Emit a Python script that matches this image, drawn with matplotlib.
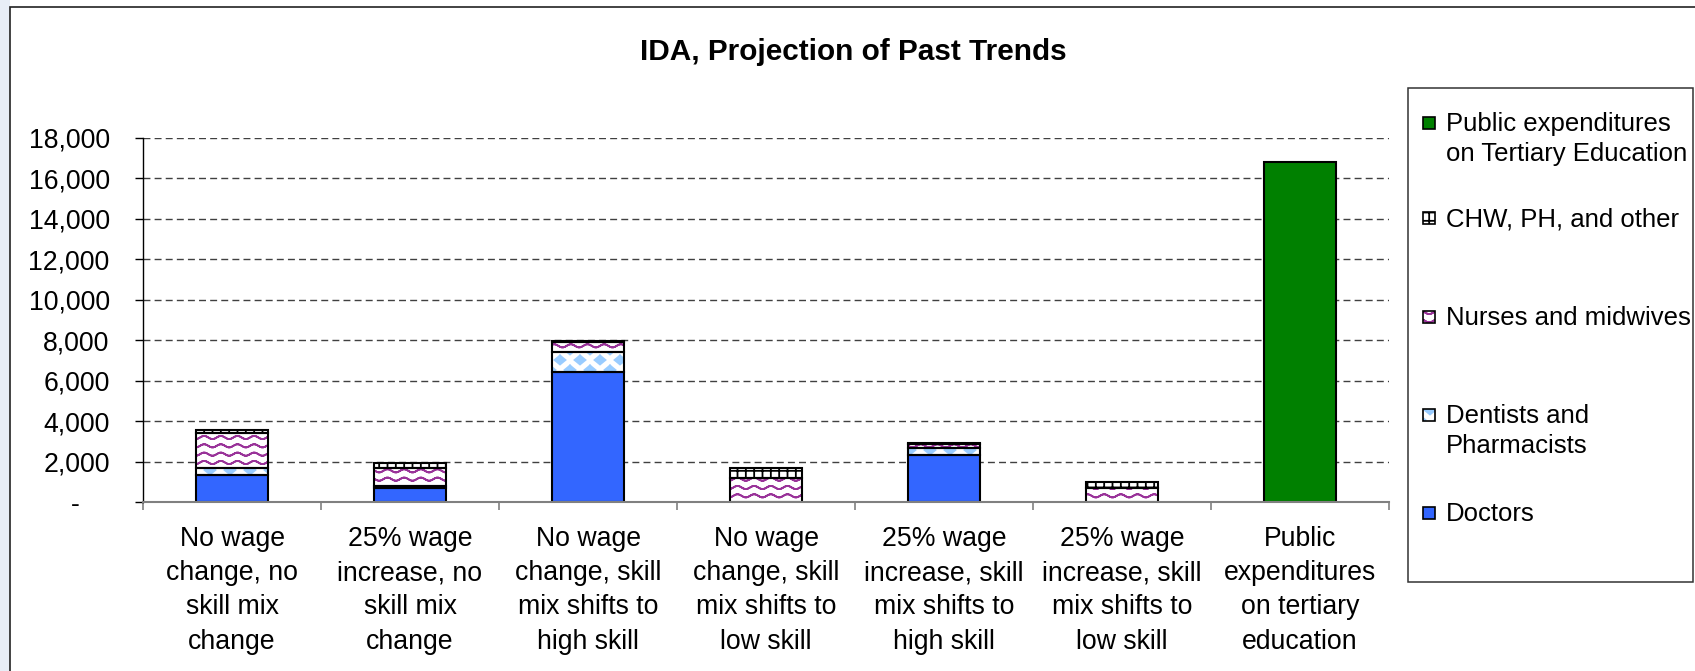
import warnings

import matplotlib
matplotlib.use("Agg")
import matplotlib.hatch as mhatch
import matplotlib.pyplot as plt
import numpy as np
from matplotlib.patches import Rectangle
from matplotlib.path import Path
from matplotlib.ticker import FixedLocator

warnings.filterwarnings("ignore")

# ---------- data ----------
categories = [
    "No wage\nchange, no\nskill mix\nchange",
    "25% wage\nincrease, no\nskill mix\nchange",
    "No wage\nchange, skill\nmix shifts to\nhigh skill",
    "No wage\nchange, skill\nmix shifts to\nlow skill",
    "25% wage\nincrease, skill\nmix shifts to\nhigh skill",
    "25% wage\nincrease, skill\nmix shifts to\nlow skill",
    "Public\nexpenditures\non tertiary\neducation",
]
doctors = [1350, 680, 6420, 0, 2330, 0, 0]
dentists = [320, 130, 990, 0, 330, 0, 0]
nurses = [1730, 860, 480, 1170, 210, 680, 0]
chw_other = [160, 250, 60, 500, 30, 320, 0]
public_tertiary = [0, 0, 0, 0, 0, 0, 16800]

yticks = list(range(0, 18001, 2000))


# ---------- custom hatch patterns ----------
class WaveHatch(mhatch.HatchPatternBase):
    """'~' : rows of small sine waves (drawn out and back so nothing gets filled)."""

    def __init__(self, hatch, density):
        self.num_rows = int(hatch.count("~") * density)
        self.num_pts = 61
        self.num_vertices = self.num_rows * self.num_pts * 2

    def set_vertices_and_codes(self, vertices, codes):
        xs = np.linspace(0.0, 1.0, self.num_pts)
        wave = 0.016 * np.sin(2 * np.pi * 6 * xs)
        n = self.num_pts
        for i in range(self.num_rows):
            y0 = (i + 0.5) / self.num_rows
            start = i * 2 * n
            vertices[start:start + n, 0] = xs
            vertices[start:start + n, 1] = y0 + wave
            vertices[start + n:start + 2 * n, 0] = xs[::-1]
            vertices[start + n:start + 2 * n, 1] = (y0 + wave)[::-1]
            codes[start:start + 2 * n] = Path.LINETO
            codes[start] = Path.MOVETO


class DiamondHatch(mhatch.HatchPatternBase):
    """'d' : staggered rows of filled diamonds."""

    n_cols = 5
    n_rows = 10

    def __init__(self, hatch, density):
        self.count = hatch.count("d")
        if self.count:
            self.centers = []
            for r in range(self.n_rows + 1):
                if r % 2 == 0:
                    cols = np.arange(self.n_cols + 1) / self.n_cols
                else:
                    cols = (np.arange(self.n_cols) + 0.5) / self.n_cols
                for c in cols:
                    self.centers.append((c, r / self.n_rows))
            self.num_vertices = len(self.centers) * 5
        else:
            self.num_vertices = 0

    def set_vertices_and_codes(self, vertices, codes):
        shape = np.array([[0, 1], [1, 0], [0, -1], [-1, 0], [0, 1]], float)
        shape *= [0.055, 0.045]
        for k, (cx, cy) in enumerate(self.centers):
            vertices[k * 5:(k + 1) * 5] = shape + [cx, cy]
            codes[k * 5:(k + 1) * 5] = Path.LINETO
            codes[k * 5] = Path.MOVETO


mhatch._hatch_types.extend([WaveHatch, DiamondHatch])

# ---------- style ----------
plt.rcParams["font.family"] = ["Liberation Sans", "DejaVu Sans"]
plt.rcParams["hatch.linewidth"] = 1.3

FS = 19.2
LEG_FS = 18.5
series = [
    # label, values, face, hatch colour, hatch
    ("Doctors", doctors, "#3366FF", "#3366FF", None),
    ("Dentists and\nPharmacists", dentists, "white", "#99CCFF", "d"),
    ("Nurses and midwives", nurses, "white", "#993399", "~~"),
    ("CHW, PH, and other", chw_other, "white", "black", "++"),
    ("Public expenditures\non Tertiary Education", public_tertiary, "#008000", "#008000", None),
]
# first-line centre of each legend entry, pixels from the top (same order as series)
legend_rows = [513, 415, 317, 218, 123]

fig = plt.figure(figsize=(16.95, 6.71), dpi=100)
W, H = 1695, 671

# outer chart border and the pale strip outside it
fig.patches.append(Rectangle((0, 0), 10 / W, 1, transform=fig.transFigure,
                             facecolor="#e8eef7", edgecolor="none", zorder=-2))
fig.patches.append(Rectangle((10 / W, -0.1), 1.1, 1.1 - 7 / H, transform=fig.transFigure,
                             facecolor="white", edgecolor="#222222", lw=1.2, zorder=-1))

ax = fig.add_axes([143 / W, 1 - 502 / H, (1389 - 143) / W, (502 - 138) / H])
ax.set_facecolor("none")

x = np.arange(len(categories))
width = 0.41
bottom = np.zeros(len(categories))
for label, vals, face, hcol, hatch in series:
    vals = np.asarray(vals, float)
    keep = vals > 0
    ax.bar(x[keep], vals[keep], width, bottom=bottom[keep], color=face,
           edgecolor=hcol, hatch=hatch, linewidth=0, zorder=3)
    ax.bar(x[keep], vals[keep], width, bottom=bottom[keep], fill=False,
           edgecolor="black", linewidth=1.5, zorder=4)
    bottom += vals

ax.set_xlim(-0.5, len(categories) - 0.5)
ax.set_ylim(0, 18000)
ax.set_yticks(yticks)
ax.set_yticklabels(["-    " if v == 0 else f"{v:,}" for v in yticks], fontsize=FS)
ax.set_xticks(x)
ax.set_xticklabels(categories, fontsize=FS, linespacing=1.42)
ax.xaxis.set_minor_locator(FixedLocator(np.arange(-0.5, len(categories), 1.0)))
ax.tick_params(axis="x", which="major", length=0, pad=17)
ax.tick_params(axis="x", which="minor", length=6, width=1.2, color="#808080", direction="out")
ax.tick_params(axis="y", length=6, width=1.0, color="black", pad=18)

ax.yaxis.grid(True, linestyle=(0, (5, 3)), color="#404040", linewidth=1.0, zorder=1)
ax.set_axisbelow(True)
for side in ("top", "right"):
    ax.spines[side].set_visible(False)
ax.spines["left"].set_color("black")
ax.spines["left"].set_linewidth(1.0)
ax.spines["bottom"].set_color("#808080")
ax.spines["bottom"].set_linewidth(1.5)
ax.spines["bottom"].set_zorder(5)

fig.text(853 / W, 1 - 52 / H, "IDA, Projection of Past Trends", ha="center", va="center",
         fontsize=21.4, fontweight="bold")

# ---------- legend (box, swatches and labels) ----------
fig.patches.append(Rectangle((1408 / W, 1 - 582 / H), (1693 - 1408) / W, (582 - 88) / H,
                             transform=fig.transFigure, fill=False, edgecolor="#333333",
                             lw=1.1, zorder=1))
pitch = 30  # line pitch of two-line labels, px
sw = 12     # swatch size, px
for (label, _, face, hcol, hatch), y0 in zip(series, legend_rows):
    n_lines = label.count("\n") + 1
    fig.patches.append(Rectangle((1423 / W, 1 - (y0 + sw / 2) / H), sw / W, sw / H,
                                 transform=fig.transFigure, facecolor=face, edgecolor=hcol,
                                 hatch=hatch, lw=0, zorder=2))
    fig.patches.append(Rectangle((1423 / W, 1 - (y0 + sw / 2) / H), sw / W, sw / H,
                                 transform=fig.transFigure, fill=False, edgecolor="black",
                                 lw=1.2, zorder=3))
    yc = y0 + (n_lines - 1) * pitch / 2 + 1
    fig.text(1446 / W, 1 - yc / H, label, ha="left", va="center", fontsize=LEG_FS,
             linespacing=1.33)

fig.savefig("out.png", dpi=100)
